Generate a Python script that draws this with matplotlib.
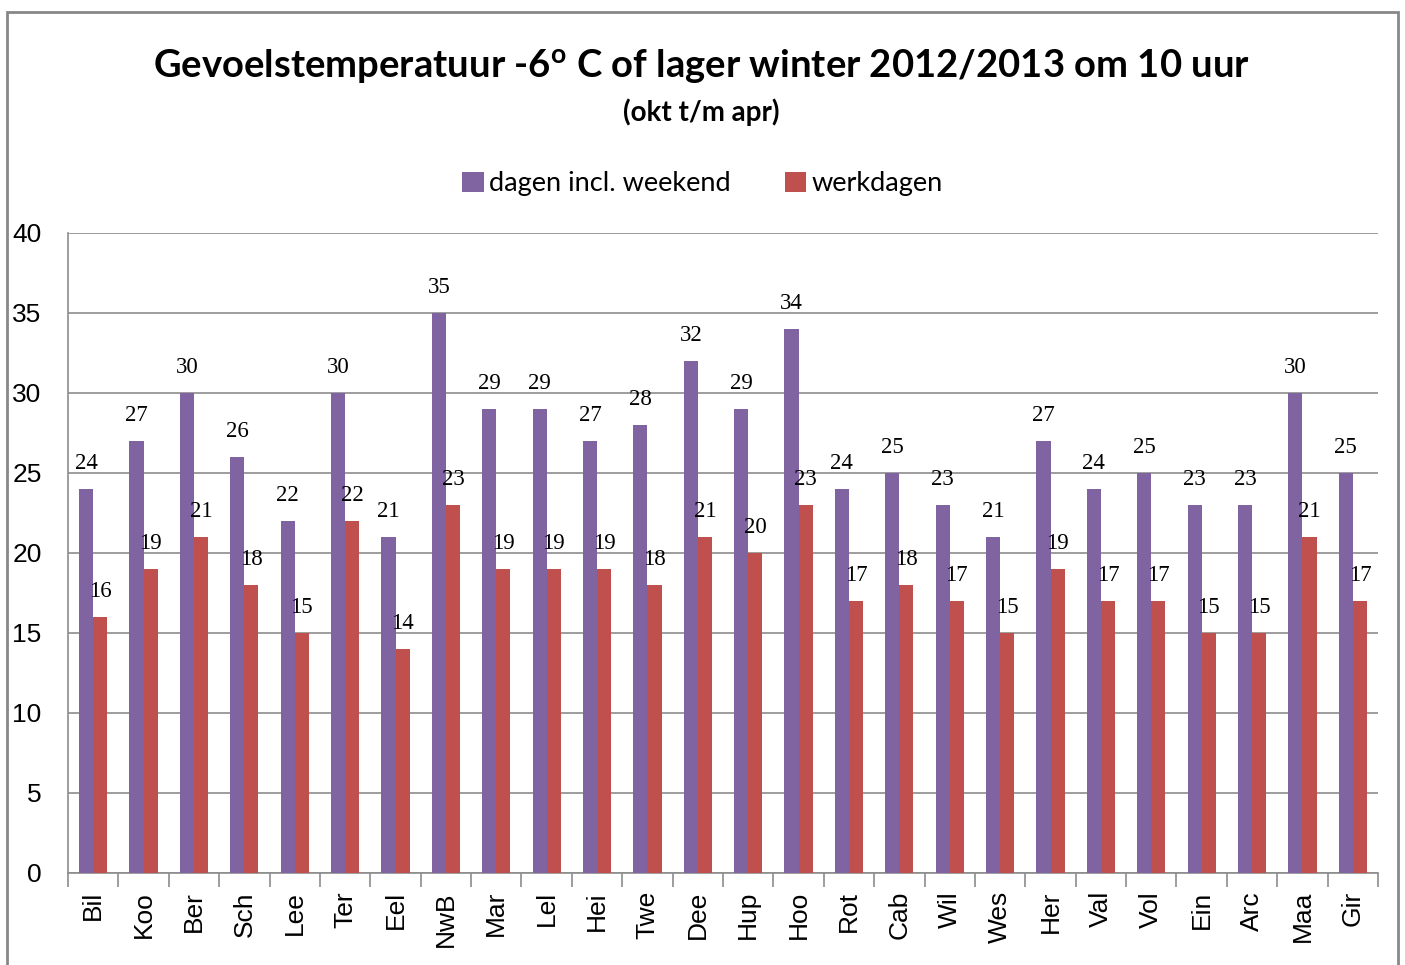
import matplotlib
matplotlib.use('Agg')
import matplotlib.pyplot as plt
import matplotlib.patches as mpatches
import numpy as np

stations = ['Bil', 'Koo', 'Ber', 'Sch', 'Lee', 'Ter', 'Eel', 'NwB', 'Mar', 'Lel',
            'Hei', 'Twe', 'Dee', 'Hup', 'Hoo', 'Rot', 'Cab', 'Wil', 'Wes', 'Her',
            'Val', 'Vol', 'Ein', 'Arc', 'Maa', 'Gir']
days_all = [24, 27, 30, 26, 22, 30, 21, 35, 29, 29, 27, 28, 32, 29, 34, 24, 25, 23,
            21, 27, 24, 25, 23, 23, 30, 25]
workdays = [16, 19, 21, 18, 15, 22, 14, 23, 19, 19, 19, 18, 21, 20, 23, 17, 18, 17,
            15, 19, 17, 17, 15, 15, 21, 17]
yticks = [0, 5, 10, 15, 20, 25, 30, 35, 40]

purple = '#8064A2'
red = '#C0504D'
grid_col = '#8C8C8C'

plt.rcParams['mathtext.fontset'] = 'custom'
plt.rcParams['mathtext.rm'] = 'Lato:bold'

fig = plt.figure(figsize=(14.05, 9.65), dpi=100)
ax = fig.add_axes([68 / 1405, 1 - 873 / 965, 1310 / 1405, 640 / 965])

x = np.arange(len(stations))
w = 0.28
b1 = ax.bar(x - w / 2, days_all, w, color=purple, label='dagen incl. weekend', zorder=3)
b2 = ax.bar(x + w / 2, workdays, w, color=red, label='werkdagen', zorder=3)

for bars in (b1, b2):
    for rect in bars:
        ax.annotate(str(int(rect.get_height())),
                    (rect.get_x() + rect.get_width() / 2, rect.get_height()),
                    xytext=(0, 11), textcoords='offset points', ha='center', va='bottom',
                    fontsize=16.5, family='Liberation Serif', zorder=4)

ax.set_xlim(-0.5, len(stations) - 0.5)
ax.set_ylim(0, 40)
ax.set_yticks(yticks)
ax.set_yticklabels([str(v) for v in yticks], family='Liberation Sans', fontsize=19)
ax.yaxis.grid(True, color=grid_col, linewidth=1.2, zorder=0)
ax.tick_params(axis='y', length=0, pad=19)

ax.set_xticks(x)
ax.set_xticklabels(stations, rotation=90, family='Liberation Sans', fontsize=19)
ax.tick_params(axis='x', length=0, pad=13)
ax.set_xticks(np.arange(-0.5, len(stations)), minor=True)
ax.tick_params(axis='x', which='minor', length=10, width=1.2, color=grid_col, direction='out')

for s in ['top', 'right']:
    ax.spines[s].set_visible(False)
for s in ['left', 'bottom']:
    ax.spines[s].set_color(grid_col)
    ax.spines[s].set_linewidth(1.2)

fig.text(0.499, 1 - 67 / 965, r'Gevoelstemperatuur -6$^{\mathrm{o}}$ C of lager winter 2012/2013 om 10 uur',
         ha='center', va='center', fontsize=27.5, fontweight='bold', family='Lato')
fig.text(0.499, 1 - 112 / 965, '(okt t/m apr)', ha='center', va='center',
         fontsize=20, fontweight='bold', family='Lato')

fig.legend(handles=[b1, b2], loc='center', bbox_to_anchor=(0.5, 1 - 184 / 965),
           ncol=2, frameon=False, prop={'family': 'Lato', 'size': 19.5},
           handlelength=0.8, handleheight=0.8, handletextpad=0.2, columnspacing=2.0)

border = mpatches.Rectangle((7 / 1405, -0.05), 1391 / 1405, 1.05 - 12 / 965,
                            transform=fig.transFigure, fill=False,
                            edgecolor='#888888', linewidth=2)
fig.patches.append(border)

fig.savefig('out.png', dpi=100)
